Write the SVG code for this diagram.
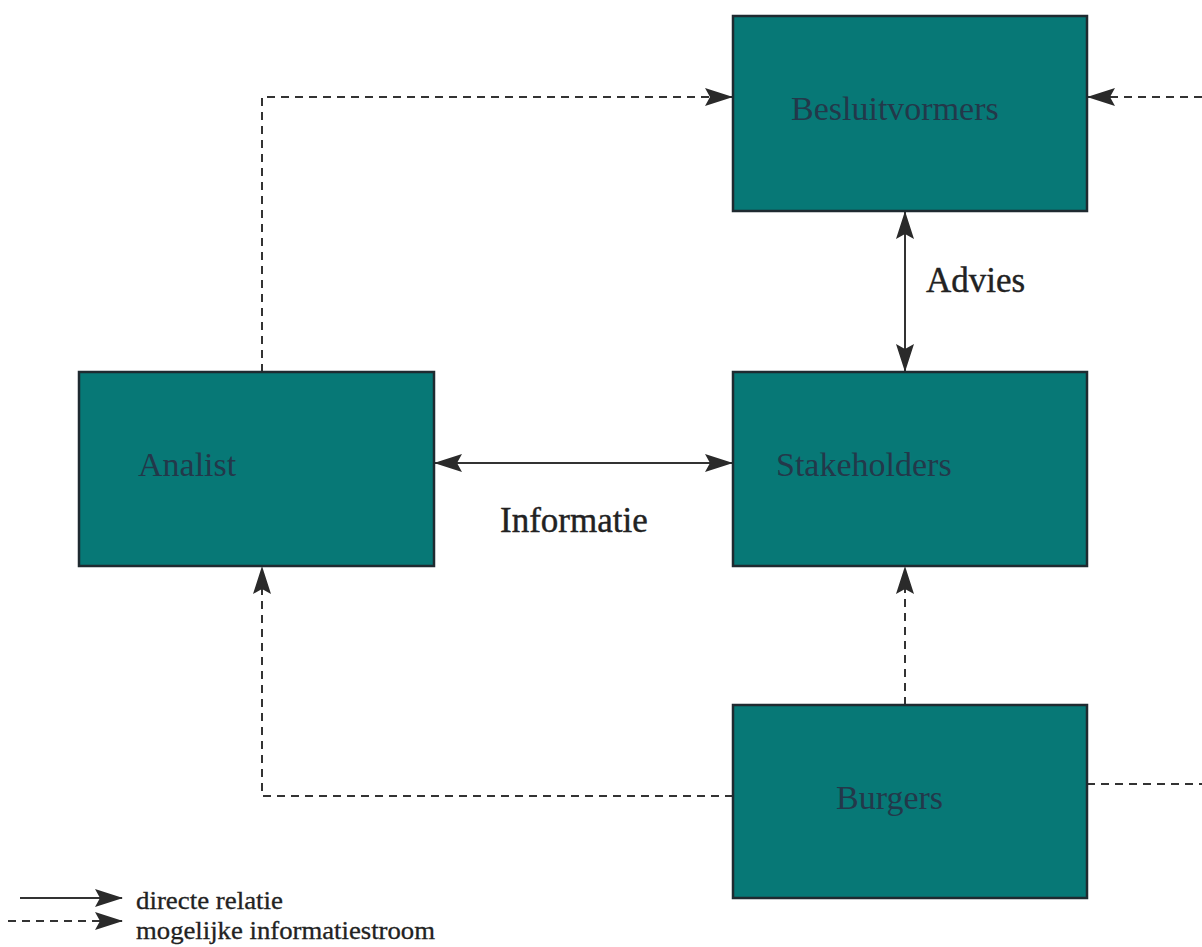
<svg xmlns="http://www.w3.org/2000/svg" width="1202" height="947" viewBox="0 0 1202 947">
<style>
.box{fill:#077876;stroke:#1f2a30;stroke-width:2.5}
.lbl{font-family:"Liberation Serif",serif;font-size:34px;fill:#23384a}
.txt{font-family:"Liberation Serif",serif;font-size:35px;fill:#222;stroke:#222;stroke-width:0.4}
.leg{font-family:"Liberation Serif",serif;font-size:25px;fill:#222;stroke:#222;stroke-width:0.3}
.solid{stroke:#333;stroke-width:2;fill:none}
.dash{stroke:#333;stroke-width:2;fill:none;stroke-dasharray:8,6}
</style>
<defs>
<marker id="ah" viewBox="0 0 28 18" refX="27" refY="9" markerWidth="28" markerHeight="18" markerUnits="userSpaceOnUse" orient="auto-start-reverse">
<path d="M0,0 L28,9 L0,18 L5,9 Z" fill="#2a2a2a"/>
</marker>
</defs>
<g id="connectors">
<polyline class="dash" points="262,372 262,97 732,97" marker-end="url(#ah)"/>
<line class="dash" x1="1202" y1="97" x2="1088" y2="97" marker-end="url(#ah)"/>
<polyline class="dash" points="733,796 262,796 262,567" marker-end="url(#ah)"/>
<line class="dash" x1="905" y1="705" x2="905" y2="567" marker-end="url(#ah)"/>
<line class="dash" x1="1087" y1="784" x2="1202" y2="784"/>
<line class="solid" x1="435" y1="463" x2="732" y2="463" marker-start="url(#ah)" marker-end="url(#ah)"/>
<line class="solid" x1="905" y1="212" x2="905" y2="371" marker-start="url(#ah)" marker-end="url(#ah)"/>
<text class="txt" x="926" y="292">Advies</text>
<text class="txt" x="500" y="532">Informatie</text>
</g>
<g id="besluitvormers"><rect class="box" x="733" y="16" width="354" height="195"/><text class="lbl" x="791" y="120">Besluitvormers</text></g>
<g id="analist"><rect class="box" x="79" y="372" width="355" height="194"/><text class="lbl" x="138" y="476">Analist</text></g>
<g id="stakeholders"><rect class="box" x="733" y="372" width="354" height="194"/><text class="lbl" x="776" y="476">Stakeholders</text></g>
<g id="burgers"><rect class="box" x="733" y="705" width="354" height="193"/><text class="lbl" x="836" y="809">Burgers</text></g>
<g id="legend">
<line class="solid" x1="20" y1="898" x2="122" y2="898" marker-end="url(#ah)"/>
<line class="dash" x1="8" y1="921" x2="122" y2="921" marker-end="url(#ah)"/>
<text class="leg" x="136" y="909" textLength="147" lengthAdjust="spacingAndGlyphs">directe relatie</text>
<text class="leg" x="136" y="939" textLength="299" lengthAdjust="spacingAndGlyphs">mogelijke informatiestroom</text>
</g>
</svg>
